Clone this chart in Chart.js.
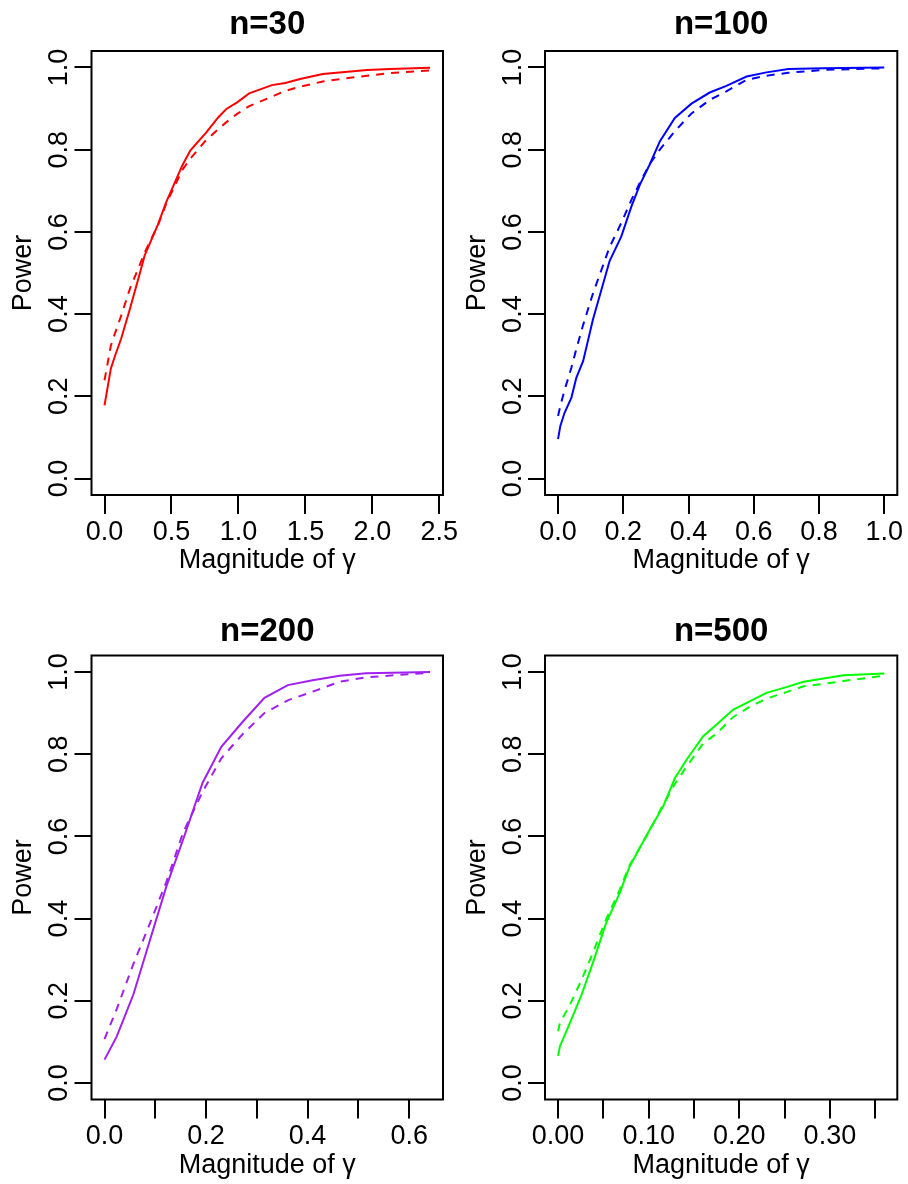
<!DOCTYPE html>
<html>
<head>
<meta charset="utf-8">
<script src="https://cdn.jsdelivr.net/npm/chart.js@4.4.0/dist/chart.umd.min.js"></script>
<style>
  html, body { margin: 0; padding: 0; background: #fff; }
  #grid { position: relative; width: 908px; height: 1184px; }
  canvas { position: absolute; }
</style>
</head>
<body>
<div id="grid">
  <canvas id="p30" width="470" height="592" style="left:0;top:0"></canvas>
  <canvas id="p100" width="454" height="592" style="left:454px;top:0"></canvas>
  <canvas id="p200" width="470" height="592" style="left:0;top:592px"></canvas>
  <canvas id="p500" width="454" height="592" style="left:454px;top:592px"></canvas>
</div>
<script>
// n = 30
const gamma30 = [0, 0.047, 0.08, 0.124, 0.19, 0.266, 0.30, 0.40, 0.46, 0.58, 0.64, 0.76, 0.85, 0.91, 0.99, 1.08, 1.25, 1.35, 1.46, 1.63, 1.96, 2.13, 2.43];
const solid30 = [0.178, 0.267, 0.30, 0.34, 0.413, 0.502, 0.543, 0.619, 0.672, 0.761, 0.798, 0.842, 0.879, 0.899, 0.915, 0.937, 0.957, 0.962, 0.972, 0.984, 0.994, 0.996, 0.999];
const dashed30 = [0.239, 0.323, 0.355, 0.396, 0.462, 0.522, 0.55, 0.617, 0.668, 0.75, 0.778, 0.824, 0.85, 0.867, 0.887, 0.906, 0.929, 0.943, 0.953, 0.966, 0.98, 0.986, 0.993];

// n = 100
const gamma100 = [0, 0.007, 0.020, 0.041, 0.056, 0.077, 0.107, 0.158, 0.194, 0.225, 0.251, 0.281, 0.312, 0.358, 0.409, 0.465, 0.516, 0.578, 0.639, 0.706, 0.813, 1.0];
const solid100 = [0.096, 0.128, 0.160, 0.197, 0.245, 0.286, 0.387, 0.529, 0.589, 0.662, 0.715, 0.764, 0.820, 0.877, 0.912, 0.939, 0.955, 0.978, 0.988, 0.996, 0.998, 1.0];
const dashed100 = [0.152, 0.177, 0.215, 0.27, 0.315, 0.374, 0.45, 0.563, 0.622, 0.678, 0.72, 0.765, 0.8, 0.845, 0.888, 0.921, 0.942, 0.97, 0.98, 0.987, 0.994, 0.998];

// n = 200
const gamma200 = [0, 0.024, 0.057, 0.090, 0.122, 0.155, 0.193, 0.230, 0.273, 0.315, 0.361, 0.410, 0.463, 0.515, 0.641];
const solid200 = [0.057, 0.113, 0.216, 0.350, 0.479, 0.593, 0.730, 0.818, 0.880, 0.937, 0.968, 0.980, 0.991, 0.997, 1.0];
const dashed200 = [0.107, 0.18, 0.29, 0.39, 0.49, 0.61, 0.708, 0.79, 0.85, 0.9, 0.931, 0.952, 0.976, 0.987, 0.998];

// n = 500
const gamma500 = [0, 0.002, 0.013, 0.026, 0.039, 0.053, 0.068, 0.079, 0.100, 0.116, 0.129, 0.142, 0.160, 0.175, 0.193, 0.212, 0.230, 0.252, 0.271, 0.293, 0.315, 0.360];
const solid500 = [0.066, 0.089, 0.146, 0.215, 0.296, 0.389, 0.462, 0.527, 0.612, 0.673, 0.742, 0.787, 0.843, 0.872, 0.908, 0.929, 0.949, 0.963, 0.976, 0.984, 0.992, 0.996];
const dashed500 = [0.126, 0.146, 0.19, 0.251, 0.32, 0.398, 0.47, 0.53, 0.61, 0.677, 0.728, 0.77, 0.826, 0.85, 0.89, 0.916, 0.935, 0.951, 0.965, 0.971, 0.978, 0.991];

// tick marks and their labels ('' = tick without label)
const xTicks30 = [0, 0.5, 1, 1.5, 2, 2.5];
const xLabels30 = ['0.0', '0.5', '1.0', '1.5', '2.0', '2.5'];
const xTicks100 = [0, 0.2, 0.4, 0.6, 0.8, 1];
const xLabels100 = ['0.0', '0.2', '0.4', '0.6', '0.8', '1.0'];
const xTicks200 = [0, 0.1, 0.2, 0.3, 0.4, 0.5, 0.6];
const xLabels200 = ['0.0', '', '0.2', '', '0.4', '', '0.6'];
const xTicks500 = [0, 0.05, 0.1, 0.15, 0.2, 0.25, 0.3, 0.35];
const xLabels500 = ['0.00', '', '0.10', '', '0.20', '', '0.30', ''];
const yTicks = [0, 0.2, 0.4, 0.6, 0.8, 1];
const yLabels = ['0.0', '0.2', '0.4', '0.6', '0.8', '1.0'];

const FONT = '"Liberation Sans", Arial, Helvetica, sans-serif';

// box around the plot + vertical y labels (R style)
const rAxes = {
  id: 'rAxes',
  afterDraw(chart) {
    const { ctx, chartArea: a, scales: { y } } = chart;
    ctx.save();
    ctx.strokeStyle = '#000';
    ctx.lineWidth = 2;
    ctx.strokeRect(a.left, a.top, a.right - a.left, a.bottom - a.top);
    ctx.fillStyle = '#000';
    ctx.font = '27px ' + FONT;
    ctx.textAlign = 'center';
    ctx.textBaseline = 'alphabetic';
    yTicks.forEach((v, i) => {
      ctx.save();
      ctx.translate(a.left - 24.5, y.getPixelForValue(v));
      ctx.rotate(-Math.PI / 2);
      ctx.fillText(yLabels[i], 0, 0);
      ctx.restore();
    });
    ctx.restore();
  },
};

function panel(id, title, colour, gamma, solid, dashed, xTicks, xLabels, pad) {
  const span = gamma[gamma.length - 1] - gamma[0];
  new Chart(document.getElementById(id), {
    type: 'line',
    data: {
      datasets: [
        {
          data: gamma.map((g, i) => ({ x: g, y: solid[i] })),
          borderColor: colour,
          borderWidth: 2,
          pointRadius: 0,
          tension: 0,
        },
        {
          data: gamma.map((g, i) => ({ x: g, y: dashed[i] })),
          borderColor: colour,
          borderWidth: 2,
          borderDash: [8, 7],
          pointRadius: 0,
          tension: 0,
        },
      ],
    },
    options: {
      responsive: false,
      animation: false,
      devicePixelRatio: 1,
      layout: { padding: { top: 0, left: 0, right: pad.right, bottom: pad.bottom } },
      plugins: {
        legend: { display: false },
        tooltip: { enabled: false },
        title: {
          display: true,
          fullSize: false, // centre over the plot box, not the canvas
          text: title,
          color: '#000',
          font: { family: FONT, size: 33, weight: 'bold' },
          padding: { top: pad.titleTop, bottom: pad.titleBottom },
        },
      },
      scales: {
        x: {
          type: 'linear',
          min: gamma[0] - 0.04 * span,
          max: gamma[gamma.length - 1] + 0.04 * span,
          afterBuildTicks: (s) => { s.ticks = xTicks.map((v) => ({ value: v })); },
          afterFit: (s) => { s.height = 82; s.paddingLeft = 0; s.paddingRight = 0; },
          ticks: {
            autoSkip: false,
            maxRotation: 0,
            padding: 2,
            color: '#000',
            font: { family: FONT, size: 27 },
            callback: (v, i) => xLabels[i],
          },
          grid: { drawOnChartArea: false, drawTicks: true, tickLength: 19, color: '#000', lineWidth: 2 },
          border: { display: false },
          title: {
            display: true,
            text: 'Magnitude of γ',
            color: '#000',
            font: { family: FONT, size: 27 },
            padding: 0,
          },
        },
        y: {
          min: -0.04,
          max: 1.04,
          afterBuildTicks: (s) => { s.ticks = yTicks.map((v) => ({ value: v })); },
          afterFit: (s) => { s.width = pad.yWidth; s.paddingTop = 0; s.paddingBottom = 0; },
          ticks: { display: false },
          grid: { drawOnChartArea: false, drawTicks: true, tickLength: 17, color: '#000', lineWidth: 2 },
          border: { display: false },
          title: {
            display: true,
            text: 'Power',
            color: '#000',
            font: { family: FONT, size: 27 },
            padding: { top: 7, bottom: 0 },
          },
        },
      },
    },
    plugins: [rAxes],
  });
}

const topRow = { titleTop: 5.5, titleBottom: 5.9, bottom: 15 };
const bottomRow = { titleTop: 20, titleBottom: 3.9, bottom: 2.5 };

panel('p30', 'n=30', '#FF0000', gamma30, solid30, dashed30, xTicks30, xLabels30,
  { ...topRow, yWidth: 91.5, right: 27 });
panel('p100', 'n=100', '#0000FF', gamma100, solid100, dashed100, xTicks100, xLabels100,
  { ...topRow, yWidth: 91, right: 10.7 });
panel('p200', 'n=200', '#A020F0', gamma200, solid200, dashed200, xTicks200, xLabels200,
  { ...bottomRow, yWidth: 91.5, right: 27 });
panel('p500', 'n=500', '#00FF00', gamma500, solid500, dashed500, xTicks500, xLabels500,
  { ...bottomRow, yWidth: 91, right: 10.7 });
</script>
</body>
</html>
